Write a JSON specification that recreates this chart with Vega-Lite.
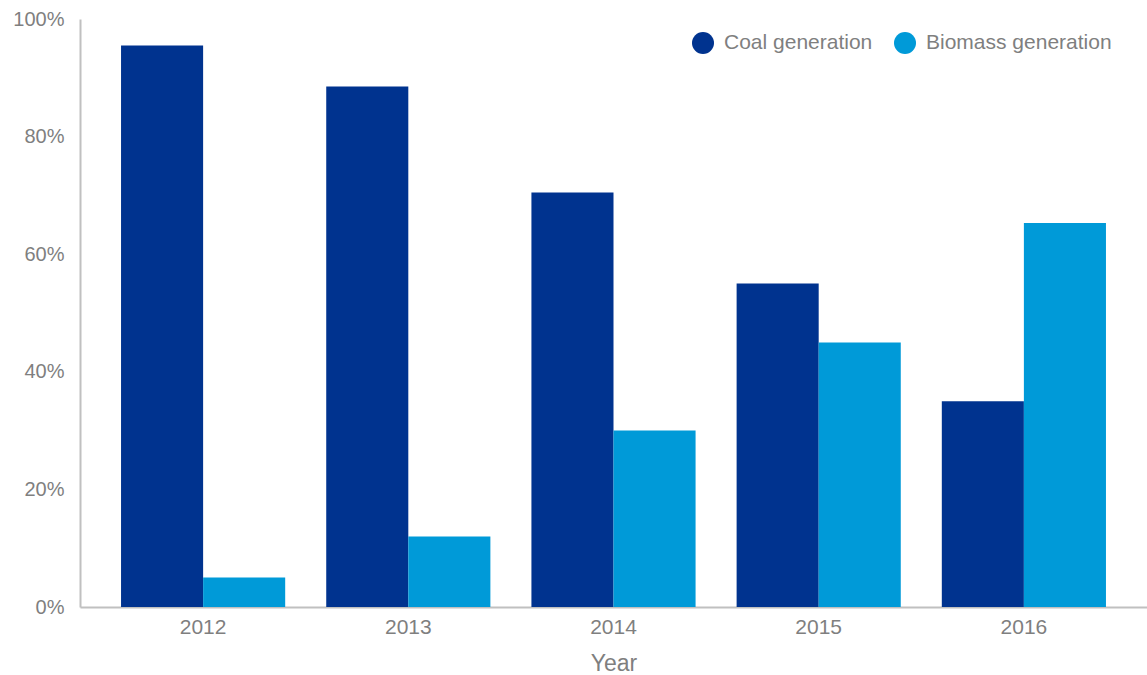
{
  "$schema": "https://vega.github.io/schema/vega-lite/v6.json",
  "width": 1067,
  "height": 588,
  "autosize": {"type": "none"},
  "padding": {"left": 80, "top": 19, "right": 0, "bottom": 68},
  "background": "white",
  "config": {
    "view": {"stroke": null},
    "font": "Liberation Sans"
  },
  "data": {
    "values": [
      {"Year": "2012", "series": "Coal generation", "value": 95.5},
      {"Year": "2012", "series": "Biomass generation", "value": 5},
      {"Year": "2013", "series": "Coal generation", "value": 88.5},
      {"Year": "2013", "series": "Biomass generation", "value": 12},
      {"Year": "2014", "series": "Coal generation", "value": 70.5},
      {"Year": "2014", "series": "Biomass generation", "value": 30},
      {"Year": "2015", "series": "Coal generation", "value": 55},
      {"Year": "2015", "series": "Biomass generation", "value": 45},
      {"Year": "2016", "series": "Coal generation", "value": 35},
      {"Year": "2016", "series": "Biomass generation", "value": 65.3}
    ]
  },
  "mark": {"type": "bar"},
  "encoding": {
    "x": {
      "field": "Year",
      "type": "nominal",
      "scale": {"paddingInner": 0.2, "paddingOuter": 0.2},
      "axis": {
        "title": "Year",
        "labelAngle": 0,
        "ticks": false,
        "domainColor": "#c0c0c0",
        "domainWidth": 2,
        "labelColor": "#7f7f7f",
        "labelFontSize": 21,
        "labelPadding": 9,
        "titleColor": "#7f7f7f",
        "titleFontSize": 23,
        "titleFontWeight": "normal",
        "titlePadding": 15
      }
    },
    "xOffset": {
      "field": "series",
      "type": "nominal",
      "sort": ["Coal generation", "Biomass generation"],
      "scale": {"paddingInner": 0, "paddingOuter": 0}
    },
    "y": {
      "field": "value",
      "type": "quantitative",
      "scale": {"domain": [0, 100]},
      "axis": {
        "title": null,
        "values": [0, 20, 40, 60, 80, 100],
        "labelExpr": "datum.value + '%'",
        "grid": false,
        "ticks": false,
        "domainColor": "#c0c0c0",
        "domainWidth": 2,
        "labelColor": "#7f7f7f",
        "labelFontSize": 20,
        "labelPadding": 16
      }
    },
    "color": {
      "field": "series",
      "type": "nominal",
      "sort": ["Coal generation", "Biomass generation"],
      "scale": {"range": ["#00338F", "#009AD8"]},
      "legend": {
        "title": null,
        "orient": "none",
        "direction": "horizontal",
        "legendX": 612,
        "legendY": 13,
        "padding": 0,
        "symbolType": "circle",
        "symbolSize": 484,
        "symbolStrokeWidth": 0,
        "labelFontSize": 21,
        "labelColor": "#7f7f7f",
        "labelOffset": 10,
        "labelLimit": 0,
        "columnPadding": 21
      }
    }
  }
}
